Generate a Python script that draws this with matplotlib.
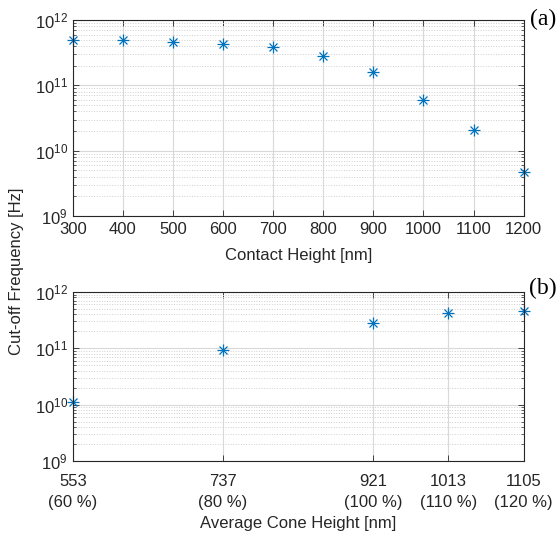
import matplotlib.pyplot as plt
from matplotlib.ticker import LogLocator, NullFormatter

# Data
contact_height = [300, 400, 500, 600, 700, 800, 900, 1000, 1100, 1200]
freq_a = [5.0e11, 4.9e11, 4.65e11, 4.3e11, 3.8e11, 2.78e11, 1.58e11, 6.0e10, 2.07e10, 4.7e9]

cone_height = [553, 737, 921, 1013, 1105]
cone_labels = ["553\n(60 %)", "737\n(80 %)", "921\n(100 %)", "1013\n(110 %)", "1105\n(120 %)"]
freq_b = [1.13e10, 9.4e10, 2.78e11, 4.18e11, 4.6e11]

plt.rcParams['font.family'] = ['Liberation Sans', 'DejaVu Sans']
plt.rcParams['font.size'] = 12
plt.rcParams['mathtext.fontset'] = 'custom'
plt.rcParams['mathtext.rm'] = 'Liberation Sans'

blue = '#0072BD'
edge = '#262626'

fig = plt.figure(figsize=(5.6, 5.34), dpi=100)
ax1 = fig.add_axes([0.130, 0.5955, 0.805, 0.367])
ax2 = fig.add_axes([0.130, 0.1367, 0.805, 0.3165])


def style(ax):
    ax.set_yscale('log')
    ax.set_ylim(1e9, 1e12)
    ax.yaxis.set_major_locator(LogLocator(base=10, numticks=10))
    ax.yaxis.set_minor_locator(LogLocator(base=10, subs=range(2, 10), numticks=10))
    ax.yaxis.set_minor_formatter(NullFormatter())
    ax.grid(True, which='major', color='#d9d9d9', linewidth=0.8)
    ax.grid(True, which='minor', axis='y', color='#cfcfcf', linestyle=':', linewidth=0.7)
    ax.tick_params(which='both', direction='in', top=True, right=True, colors=edge,
                   labelcolor=edge, labelsize=12)
    ax.tick_params(which='major', length=4, width=0.6)
    ax.tick_params(which='minor', length=2, width=0.5)
    for s in ax.spines.values():
        s.set_color(edge)
        s.set_linewidth(0.8)
    ax.set_axisbelow(True)


def asterisk(ax, x, y):
    # MATLAB-style asterisk marker: plus + cross
    ax.plot(x, y, linestyle='none', marker='+', markersize=8, color=blue,
            markeredgewidth=0.9, clip_on=False)
    ax.plot(x, y, linestyle='none', marker='x', markersize=6, color=blue,
            markeredgewidth=0.9, clip_on=False)


style(ax1)
asterisk(ax1, contact_height, freq_a)
ax1.set_xlim(300, 1200)
ax1.set_xticks(contact_height)
ax1.tick_params(axis='x', pad=4)
ax1.set_xlabel("Contact Height [nm]", fontsize=12, color=edge, labelpad=8)

style(ax2)
asterisk(ax2, cone_height, freq_b)
ax2.set_xlim(553, 1105)
ax2.set_xticks(cone_height)
ax2.set_xticklabels(cone_labels, linespacing=1.55)
ax2.tick_params(axis='x', pad=9)
ax2.set_xlabel("Average Cone Height [nm]", fontsize=12, color=edge, labelpad=4)

fig.text(0.03, 0.492, "Cut-off Frequency [Hz]", rotation=90, ha='center', va='center',
         fontsize=12, color=edge)

fig.text(0.970, 0.964, "(a)", family='Liberation Serif', fontsize=17, ha='center', va='center')
fig.text(0.970, 0.459, "(b)", family='Liberation Serif', fontsize=17, ha='center', va='center')

plt.savefig("out.png", dpi=100)
